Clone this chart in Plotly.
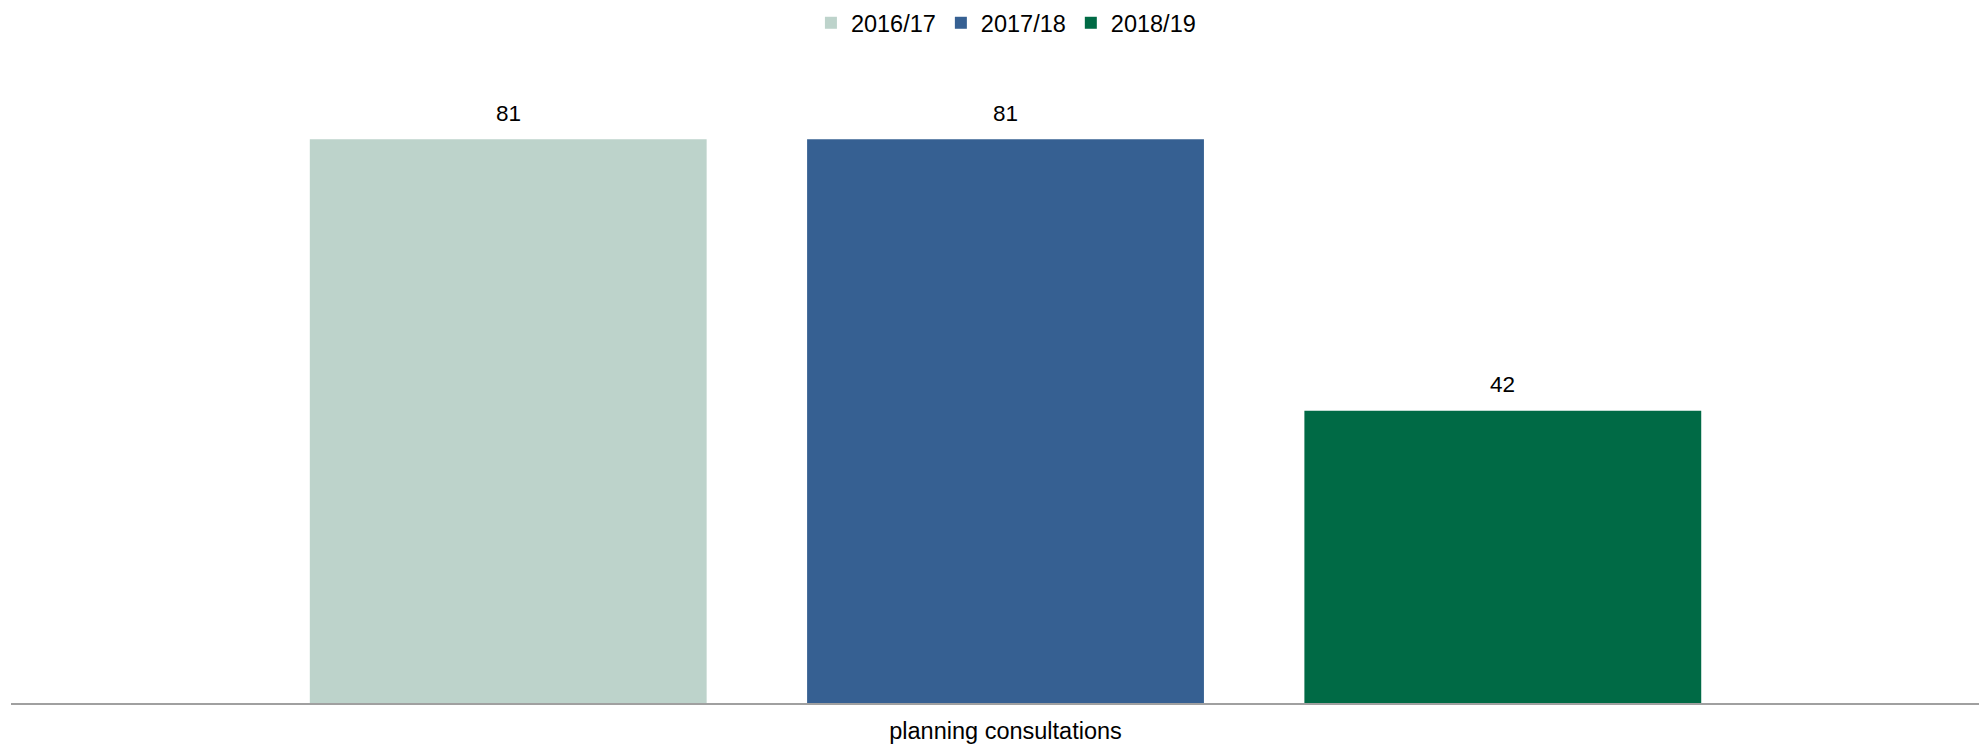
import plotly.graph_objects as go

categories = ["planning consultations"]
series_names = ["2016/17", "2017/18", "2018/19"]
values = [[81], [81], [42]]
colors = ["#BDD3CB", "#366092", "#006A45"]

BARGAP = 0.245
GROUPGAP = 0.202
FONT = "Liberation Sans, Arial, sans-serif"

fig = go.Figure()
for name, vals, col in zip(series_names, values, colors):
    fig.add_trace(go.Bar(
        x=categories, y=vals, name=name,
        marker=dict(color=col, line=dict(width=0)),
        hoverinfo="skip",
    ))

# data labels above each bar
n = len(series_names)
slot = (1 - BARGAP) / n
for i, vals in enumerate(values):
    for ci, v in enumerate(vals):
        fig.add_annotation(
            x=ci + (i - (n - 1) / 2) * slot, y=v, xref="x", yref="y",
            text=str(v), showarrow=False, yanchor="middle", yshift=26,
            font=dict(family=FONT, size=22.5, color="#000000"),
        )

fig.update_layout(
    width=1987, height=745,
    margin=dict(l=3, r=8, t=72, b=50, autoexpand=False),
    paper_bgcolor="white", plot_bgcolor="white",
    barmode="group", bargap=BARGAP, bargroupgap=GROUPGAP,
    font=dict(family=FONT, size=22, color="#000000"),
    showlegend=True,
    legend=dict(orientation="h", x=0.5035, xanchor="center", y=1.0915, yanchor="middle",
                font=dict(family=FONT, size=23.5, color="#000000"),
                itemwidth=30, traceorder="normal"),
    xaxis=dict(type="category", range=[-0.5033, 0.4967], showline=True, linecolor="#A0A0A0",
               linewidth=2, showgrid=False, zeroline=False, ticks="", ticklabelstandoff=6,
               tickfont=dict(family=FONT, size=23.5, color="#000000"), automargin=False),
    yaxis=dict(range=[0, 89.5], visible=False, showgrid=False, zeroline=False, automargin=False),
)

fig.write_html("out.html")
